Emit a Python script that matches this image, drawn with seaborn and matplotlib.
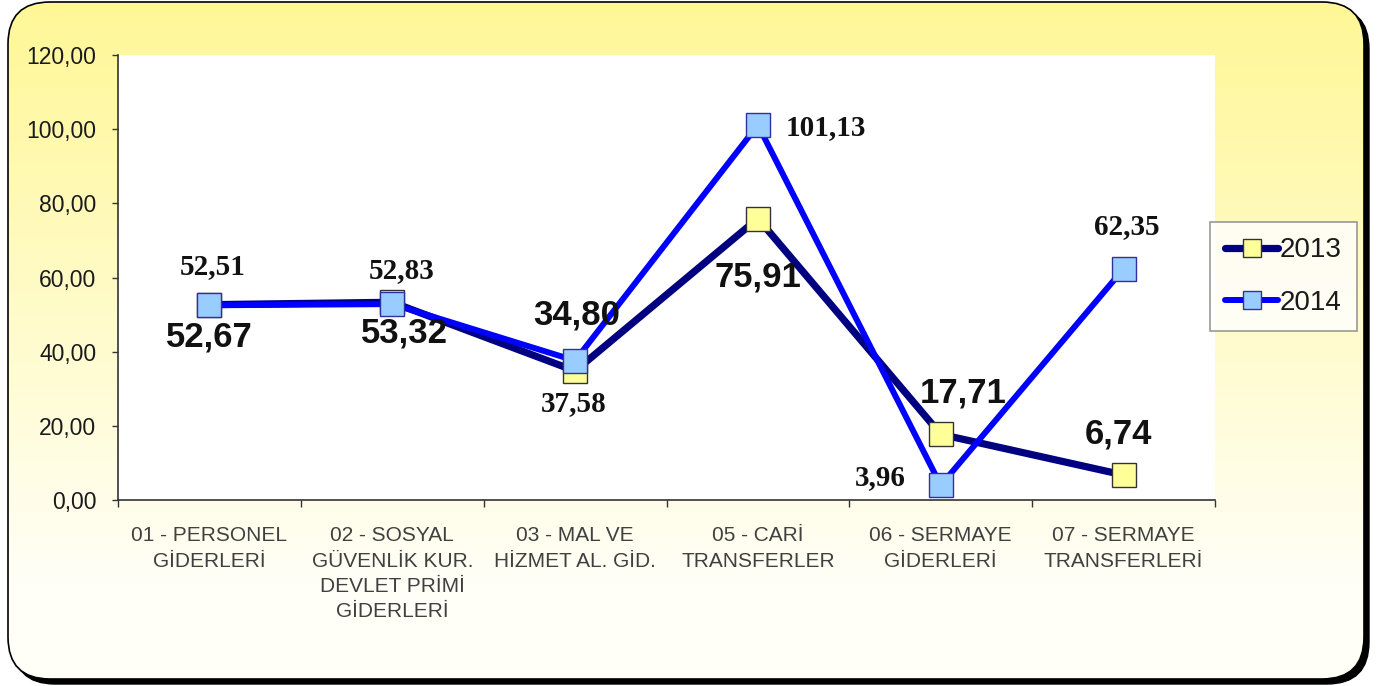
import numpy as np
import matplotlib
matplotlib.use("Agg")
import matplotlib.pyplot as plt
import seaborn as sns
from matplotlib.patches import FancyBboxPatch
from matplotlib.lines import Line2D

# veriler
categories = ["01 - PERSONEL\nGİDERLERİ",
              "02 - SOSYAL\nGÜVENLİK KUR.\nDEVLET PRİMİ\nGİDERLERİ",
              "03 - MAL VE\nHİZMET AL. GİD.",
              "05 - CARİ\nTRANSFERLER",
              "06 - SERMAYE\nGİDERLERİ",
              "07 - SERMAYE\nTRANSFERLERİ"]
vals_2013 = [52.67, 53.32, 34.80, 75.91, 17.71, 6.74]
vals_2014 = [52.51, 52.83, 37.58, 101.13, 3.96, 62.35]
yticks = [0, 20, 40, 60, 80, 100, 120]

# etiket kaydirmalari (piksel)
off_2013 = [(0, -32), (12, -31), (2, 56), (0, -58), (22, 41), (-5, 41)]
off_2014 = [(3, 39), (9, 34), (-1, -43), (68, -3), (-60, 8), (3, 42)]

sns.set_style("white")
plt.rcParams["font.family"] = ["Liberation Sans", "DejaVu Sans"]

W, H = 1378, 686
fig = plt.figure(figsize=(W / 100, H / 100), dpi=100)

# arka plan kutusu (sari gradyan + golge)
bg = fig.add_axes([0, 0, 1, 1], zorder=-5)
bg.set_xlim(0, W)
bg.set_ylim(H, 0)
bg.axis("off")
bx, by, bw, bh = 8, 2, 1356, 677
shadow = FancyBboxPatch((bx + 5, by + 5), bw, bh,
                        boxstyle="round,pad=0,rounding_size=42",
                        fc="black", ec="black", lw=1)
bg.add_patch(shadow)
box = FancyBboxPatch((bx, by), bw, bh,
                     boxstyle="round,pad=0,rounding_size=42",
                     fc="none", ec="black", lw=1.2, zorder=3)
bg.add_patch(box)
grad = np.linspace(0, 1, 256)[:, None]
top = np.array([255, 247, 150]) / 255
bot = np.array([255, 255, 248]) / 255
t = np.clip(grad * 1.15, 0, 1)
img = top[None, None, :] * (1 - t[..., None]) + bot[None, None, :] * t[..., None]
img = np.repeat(img, 2, axis=1)
im = bg.imshow(img, extent=(bx, bx + bw, by + bh, by), aspect="auto", zorder=2)
im.set_clip_path(box)

# grafik alani
ax = fig.add_axes([118 / W, 1 - 500 / H, (1215 - 118) / W, (500 - 55) / H])
ax.set_facecolor("white")

x = np.arange(len(categories))
sns.lineplot(x=x, y=vals_2013, ax=ax, color="#000080", lw=5.2,
             marker="s", markersize=17, markerfacecolor="#FFFF99",
             markeredgecolor="#333333", markeredgewidth=1.0,
             clip_on=False, zorder=3)
sns.lineplot(x=x, y=vals_2014, ax=ax, color="#0000FF", lw=4.3,
             marker="s", markersize=17, markerfacecolor="#99CCFF",
             markeredgecolor="#3030A0", markeredgewidth=1.0,
             clip_on=False, zorder=4)

for i, v in enumerate(vals_2013):
    ax.annotate(f"{v:.2f}".replace(".", ","), (i, v), xytext=off_2013[i],
                textcoords="offset pixels", ha="center", va="center",
                fontsize=25, fontweight="bold", color="#111111", zorder=6,
                annotation_clip=False)
for i, v in enumerate(vals_2014):
    ax.annotate(f"{v:.2f}".replace(".", ","), (i, v), xytext=off_2014[i],
                textcoords="offset pixels", ha="center", va="center",
                fontsize=21, fontweight="bold", color="#111111", zorder=6,
                family="Liberation Serif", annotation_clip=False)

ax.set_xlim(-0.5, len(categories) - 0.5)
ax.set_ylim(0, 120)
ax.set_yticks(yticks)
ax.set_yticklabels([f"{v:.2f}".replace(".", ",") for v in yticks],
                   fontsize=16.5, color="#1a1a1a")
ax.tick_params(axis="y", direction="out", length=4, width=1, pad=11.5,
               left=True, color="#333333")
ax.set_xticks(x)
ax.set_xticklabels(categories, fontsize=15, color="#404040", linespacing=1.42,
                   va="top")
ax.tick_params(axis="x", length=0, pad=19)
ax.set_xticks(np.arange(-0.5, len(categories)), minor=True)
ax.tick_params(axis="x", which="minor", direction="out", length=5, width=1,
               bottom=True, color="#333333")
for s in ["top", "right"]:
    ax.spines[s].set_visible(False)
for s in ["left", "bottom"]:
    ax.spines[s].set_color("#333333")
    ax.spines[s].set_linewidth(1.2)
ax.set_xlabel("")
ax.set_ylabel("")

handles = [Line2D([], [], color="#000080", lw=5.2, marker="s", markersize=13,
                  markerfacecolor="#FFFF99", markeredgecolor="#333333"),
           Line2D([], [], color="#0000FF", lw=4.3, marker="s", markersize=13,
                  markerfacecolor="#99CCFF", markeredgecolor="#3030A0")]
leg = fig.legend(handles, ["2013", "2014"], loc="upper left",
                 bbox_to_anchor=(1210 / W, 1 - 222 / H), borderaxespad=0,
                 fontsize=20, frameon=True, fancybox=False, handlelength=1.9,
                 handletextpad=0.05, borderpad=0.55, labelspacing=0.95)
leg.get_frame().set_edgecolor("#808080")
leg.get_frame().set_linewidth(1.2)
for t_ in leg.get_texts():
    t_.set_color("#1a1a1a")

fig.savefig("out.png", dpi=100)
